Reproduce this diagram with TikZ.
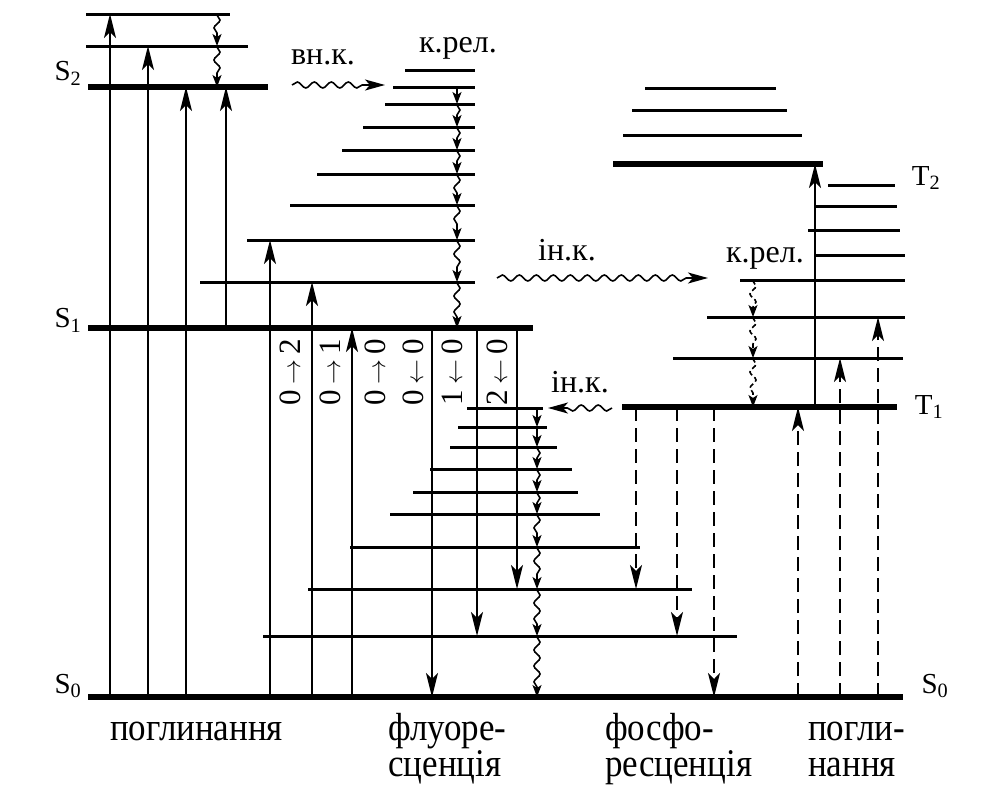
\documentclass[tikz,border=0pt]{standalone}
\usepackage{fontspec}
\setmainfont{Liberation Serif}
\usetikzlibrary{arrows.meta,decorations.pathmorphing}

\newcommand{\tall}[1]{\scalebox{1}[1.12]{#1}}

\begin{document}
\begin{tikzpicture}[x=1pt,y=-1pt,
    lvl/.style={line width=3pt},
    base/.style={line width=6pt},
    tr/.style={line width=1.8pt,-{Stealth[length=24pt,width=12pt,inset=6pt]}},
    dtr/.style={tr,dash pattern=on 14pt off 7pt},
    relax/.style={line width=1.6pt,decorate,
      decoration={snake,amplitude=3pt,segment length=16pt,pre length=1pt,post length=10pt},
      -{Stealth[length=12pt,width=9pt,inset=3pt]}},
    wav/.style={line width=1.6pt,decorate,
      decoration={snake,amplitude=3pt,segment length=17pt,post length=15pt},
      -{Stealth[length=20pt,width=11pt,inset=5pt]}},
    lab/.style={font=\fontsize{29}{32}\selectfont,inner sep=0pt},
    word/.style={font=\fontsize{35}{40}\selectfont,inner sep=0pt,anchor=base west},
    small/.style={font=\fontsize{32}{36}\selectfont,inner sep=0pt},
    vib/.style={font=\fontsize{31}{34}\selectfont,inner sep=0pt,rotate=90}]
  \useasboundingbox (0,0) rectangle (991,787);

  % S2 manifold
  \draw[lvl] (86,14) -- (230,14);
  \draw[lvl] (86,46) -- (248,46);
  \draw[base] (88,87) -- (268,87);

  % S1 manifold
  \draw[lvl] (405,70) -- (475,70);
  \draw[lvl] (393,87) -- (475,87);
  \draw[lvl] (385,104) -- (475,104);
  \draw[lvl] (363,127) -- (475,127);
  \draw[lvl] (342,150) -- (475,150);
  \draw[lvl] (317,174) -- (475,174);
  \draw[lvl] (290,205) -- (475,205);
  \draw[lvl] (247,240) -- (475,240);
  \draw[lvl] (200,282) -- (475,282);
  \draw[base] (88,328) -- (533,328);

  % S0 manifold
  \draw[lvl] (467,408) -- (543,408);
  \draw[lvl] (458,427) -- (547,427);
  \draw[lvl] (450,447) -- (557,447);
  \draw[lvl] (430,469) -- (572,469);
  \draw[lvl] (413,492) -- (578,492);
  \draw[lvl] (390,514) -- (600,514);
  \draw[lvl] (350,547) -- (640,547);
  \draw[lvl] (308,589) -- (692,589);
  \draw[lvl] (263,636) -- (737,636);
  \draw[base] (88,697) -- (903,697);

  % T2 manifold
  \draw[lvl] (645,88) -- (776,88);
  \draw[lvl] (632,110) -- (787,110);
  \draw[lvl] (623,135) -- (802,135);
  \draw[base] (613,164) -- (823,164);

  % T1 manifold
  \draw[lvl] (828,185) -- (895,185);
  \draw[lvl] (815,206) -- (897,206);
  \draw[lvl] (808,230) -- (900,230);
  \draw[lvl] (815,255) -- (905,255);
  \draw[lvl] (740,280) -- (905,280);
  \draw[lvl] (707,317) -- (905,317);
  \draw[lvl] (673,358) -- (903,358);
  \draw[base] (622,407) -- (897,407);

  % absorption
  \draw[tr] (110,697) -- (110,14);
  \draw[tr] (148,697) -- (148,46);
  \draw[tr] (186,697) -- (186,87);
  \draw[tr] (226,328) -- (226,87);
  \draw[tr] (270,697) -- (270,240);
  \draw[tr] (312,697) -- (312,282);
  \draw[tr] (352,697) -- (352,328);
  \draw[tr] (815,407) -- (815,164);

  % fluorescence
  \draw[tr] (432,328) -- (432,697);
  \draw[tr] (477,328) -- (477,636);
  \draw[tr] (517,328) -- (517,589);

  % phosphorescence and S0 -> T1 absorption
  \draw[dtr] (636,407) -- (636,589);
  \draw[dtr] (677,407) -- (677,636);
  \draw[dtr] (714,407) -- (714,697);
  \draw[dtr] (798,697) -- (798,407);
  \draw[dtr] (840,697) -- (840,358);
  \draw[dtr] (878,697) -- (878,317);

  % vibrational relaxation
  \draw[relax] (217,14) -- (217,46);
  \draw[relax] (217,46) -- (217,87);

  \draw[relax] (457,87) -- (457,104);
  \draw[relax] (457,104) -- (457,127);
  \draw[relax] (457,127) -- (457,150);
  \draw[relax] (457,150) -- (457,174);
  \draw[relax] (457,174) -- (457,205);
  \draw[relax] (457,205) -- (457,240);
  \draw[relax] (457,240) -- (457,282);
  \draw[relax] (457,282) -- (457,328);

  \draw[relax] (537,408) -- (537,427);
  \draw[relax] (537,427) -- (537,447);
  \draw[relax] (537,447) -- (537,469);
  \draw[relax] (537,469) -- (537,492);
  \draw[relax] (537,492) -- (537,514);
  \draw[relax] (537,514) -- (537,547);
  \draw[relax] (537,547) -- (537,589);
  \draw[relax] (537,589) -- (537,636);
  \draw[relax] (537,636) -- (537,697);

  \draw[relax,dash pattern=on 5pt off 3pt] (753,280) -- (753,317);
  \draw[relax,dash pattern=on 5pt off 3pt] (753,317) -- (753,358);
  \draw[relax,dash pattern=on 5pt off 3pt] (753,358) -- (753,407);

  % conversions
  \draw[wav] (292,85) -- (385,85);
  \draw[wav] (497,278) -- (708,278);
  \draw[wav] (612,408) -- (548,408);

  \node[small] (vnk) at (323,57) {вн.к.};
  \node[small] (krel1) at (458,48) {к.рел.};
  \node[small] (ink1) at (567,250) {ін.к.};
  \node[small] (krel2) at (765,258) {к.рел.};
  \node[small] (ink2) at (580,382) {ін.к.};

  % vibronic transitions
  \node[vib] (v02) at (290,372) {0\,$\rightarrow$\,2};
  \node[vib] (v01) at (330,372) {0\,$\rightarrow$\,1};
  \node[vib] (v00a) at (375,372) {0\,$\rightarrow$\,0};
  \node[vib] (v00b) at (413,372) {0\,$\leftarrow$\,0};
  \node[vib] (v10) at (452,372) {1\,$\leftarrow$\,0};
  \node[vib] (v20) at (497,372) {2\,$\leftarrow$\,0};

  % state labels
  \node[lab] (s2) at (68,73) {S\textsubscript{2}};
  \node[lab] (s1) at (68,320) {S\textsubscript{1}};
  \node[lab] (s0l) at (68,686) {S\textsubscript{0}};
  \node[lab] (t2) at (926,178) {T\textsubscript{2}};
  \node[lab] (t1) at (929,407) {T\textsubscript{1}};
  \node[lab] (s0r) at (935,686) {S\textsubscript{0}};

  % processes
  \node[word] (abs1) at (110,740) {\tall{поглинання}};
  \node[word] (fluo1) at (388,740) {\tall{флуоре-}};
  \node[word] (fluo2) at (388,776) {\tall{сценція}};
  \node[word] (phos1) at (605,740) {\tall{фосфо-}};
  \node[word] (phos2) at (605,776) {\tall{ресценція}};
  \node[word] (abs2) at (808,740) {\tall{погли-}};
  \node[word] (abs3) at (808,776) {\tall{нання}};
\end{tikzpicture}
\end{document}
